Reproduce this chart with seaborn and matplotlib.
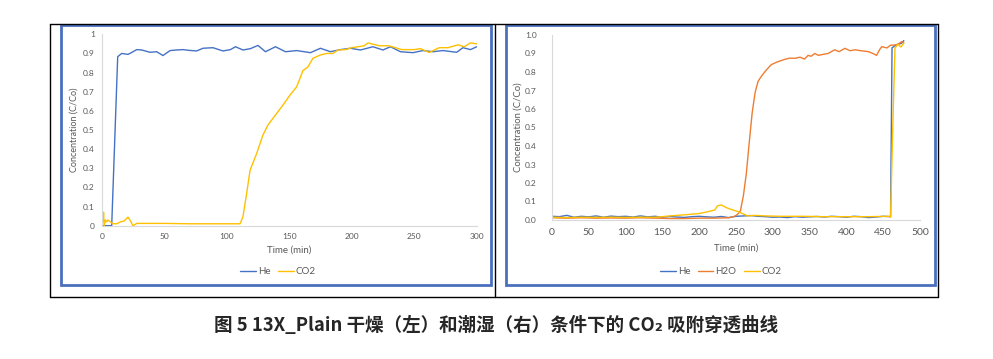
import numpy as np
import pandas as pd
import matplotlib
matplotlib.use("Agg")
import matplotlib.pyplot as plt
from matplotlib.lines import Line2D
from matplotlib.patches import Rectangle
import seaborn as sns

# ---- dry run (left) ----
he_dry_t = [0, 8, 12.8, 16, 21, 24, 28, 32, 38.7, 44, 49, 54.7, 60, 65, 70, 76, 81, 89, 97,
            103, 107, 113, 119, 125, 131, 139, 147, 156, 167, 175, 183, 191, 199, 207, 217,
            225, 231, 239, 249, 257, 265, 273, 284, 289, 295, 300]
he_dry_c = [0, 0, 0.883, 0.90, 0.895, 0.905, 0.92, 0.918, 0.906, 0.909, 0.889, 0.915, 0.918,
            0.92, 0.916, 0.913, 0.927, 0.93, 0.913, 0.92, 0.935, 0.918, 0.925, 0.942, 0.909,
            0.935, 0.909, 0.915, 0.904, 0.927, 0.909, 0.92, 0.927, 0.918, 0.935, 0.918, 0.935,
            0.909, 0.904, 0.915, 0.909, 0.915, 0.906, 0.93, 0.92, 0.935]

co2_dry_t = [0, 0.5, 1, 1.5, 2, 3, 4, 5, 7, 9, 12, 15, 18, 21, 23, 25, 28, 30, 50, 70, 90,
             110.7, 113, 116, 118.7, 124, 129, 133, 140, 145, 150.7, 156, 161, 165, 169, 175,
             180, 185, 189, 195, 200, 210, 213, 222, 230, 240, 250, 255, 262, 270, 277, 285,
             290, 295, 300]
co2_dry_c = [0.03, 0.08, 0.02, 0.07, 0.0, 0.03, 0.02, 0.03, 0.02, 0.01, 0.01, 0.02, 0.025,
             0.045, 0.025, 0.0, 0.012, 0.012, 0.012, 0.01, 0.01, 0.01, 0.047, 0.17, 0.29,
             0.378, 0.474, 0.526, 0.587, 0.63, 0.683, 0.726, 0.81, 0.83, 0.875, 0.892, 0.9,
             0.9, 0.918, 0.92, 0.93, 0.94, 0.955, 0.94, 0.94, 0.92, 0.92, 0.925, 0.905, 0.93,
             0.93, 0.945, 0.935, 0.955, 0.95]

# ---- humid run (right) ----
he_wet_t = [0, 10, 20, 30, 40, 50, 60, 70, 80, 90, 100, 110, 120, 130, 140, 150, 160, 170,
            180, 190, 200, 210, 220, 230, 240, 250, 260, 270, 280, 290, 300, 310, 320, 330,
            340, 350, 360, 370, 380, 390, 400, 410, 420, 430, 440, 450, 460, 462, 465, 470,
            475, 478]
he_wet_c = [0.02, 0.018, 0.025, 0.015, 0.02, 0.017, 0.022, 0.015, 0.021, 0.018, 0.02, 0.016,
            0.022, 0.017, 0.02, 0.015, 0.019, 0.016, 0.014, 0.018, 0.02, 0.017, 0.015, 0.019,
            0.013, 0.02, 0.022, 0.024, 0.02, 0.018, 0.015, 0.016, 0.013, 0.018, 0.015, 0.017,
            0.019, 0.016, 0.02, 0.018, 0.015, 0.02, 0.018, 0.013, 0.016, 0.02, 0.018, 0.93,
            0.94, 0.95, 0.955, 0.97]

h2o_wet_t = [0, 20, 40, 60, 80, 100, 120, 140, 160, 180, 200, 220, 240, 248, 252, 256, 260,
             264, 268, 272, 276, 280, 285, 291, 298, 307, 316, 323, 330, 337, 343, 348, 352,
             357, 362, 368, 375, 384, 390, 398, 405, 412, 420, 430, 436, 441, 445, 448, 455,
             460, 466, 470, 475, 478]
h2o_wet_c = [0.012, 0.01, 0.012, 0.01, 0.011, 0.01, 0.012, 0.01, 0.008, 0.008, 0.01, 0.01,
             0.012, 0.02, 0.03, 0.05, 0.13, 0.25, 0.42, 0.58, 0.69, 0.75, 0.78, 0.81, 0.84,
             0.856, 0.868, 0.875, 0.874, 0.88, 0.87, 0.89, 0.885, 0.9, 0.89, 0.895, 0.9, 0.92,
             0.91, 0.928, 0.915, 0.92, 0.915, 0.91, 0.9, 0.89, 0.92, 0.937, 0.93, 0.945, 0.946,
             0.95, 0.964, 0.96]

co2_wet_t = [0, 20, 40, 60, 80, 100, 120, 140, 150, 160, 180, 200, 212, 221, 225, 230, 239,
             253, 266, 275, 290, 310, 340, 370, 400, 430, 458, 460, 463, 466, 470, 474, 478]
co2_wet_c = [0.015, 0.013, 0.015, 0.014, 0.015, 0.014, 0.015, 0.015, 0.018, 0.022, 0.028,
             0.035, 0.045, 0.054, 0.077, 0.081, 0.063, 0.045, 0.022, 0.025, 0.022, 0.02, 0.02,
             0.018, 0.018, 0.018, 0.02, 0.015, 0.5, 0.93, 0.95, 0.935, 0.955]

left_yticks = [0, 0.1, 0.2, 0.3, 0.4, 0.5, 0.6, 0.7, 0.8, 0.9, 1]
left_ylabels = ["0", "0.1", "0.2", "0.3", "0.4", "0.5", "0.6", "0.7", "0.8", "0.9", "1"]
left_xticks = [0, 50, 100, 150, 200, 250, 300]
right_yticks = [0, 0.1, 0.2, 0.3, 0.4, 0.5, 0.6, 0.7, 0.8, 0.9, 1.0]
right_ylabels = ["0.0", "0.1", "0.2", "0.3", "0.4", "0.5", "0.6", "0.7", "0.8", "0.9", "1.0"]
right_xticks = [0, 50, 100, 150, 200, 250, 300, 350, 400, 450, 500]

caption = "图 5 13X_Plain 干燥（左）和潮湿（右）条件下的 CO₂ 吸附穿透曲线"

BLUE, ORANGE, YELLOW = "#4472C4", "#ED7D31", "#FFC000"
FRAME = "#4A70BC"
GREY_TXT = "#595959"
AXIS = "#D9D9D9"

W, H = 993, 359


def fx(px):
    return px / W


def fy(py):
    return 1 - py / H


sns.set_style("white")
plt.rcParams["font.family"] = ["Lato", "DejaVu Sans"]

fig = plt.figure(figsize=(9.93, 3.59), dpi=100)

# table cell borders
for x0, y0, x1, y1 in [(50, 24, 938, 24), (50, 297, 938, 297), (50, 24, 50, 297),
                       (495, 24, 495, 297), (938, 24, 938, 297)]:
    fig.add_artist(Line2D([fx(x0), fx(x1)], [fy(y0), fy(y1)], color="black", lw=1.0))

# blue chart frames
for x0, y0, x1, y1 in [(61, 25, 491, 285), (506, 25, 935, 285)]:
    fig.add_artist(Rectangle((fx(x0), fy(y1)), fx(x1) - fx(x0), fy(y0) - fy(y1),
                             fill=False, ec=FRAME, lw=2.0, transform=fig.transFigure))


def style_ax(ax, xmax, xticks, yticks, ylabels, ysize, xsize, ypad, xpad):
    ax.set_xlim(0, xmax)
    ax.set_ylim(0, 1)
    ax.set_xticks(xticks)
    ax.set_yticks(yticks)
    ax.set_yticklabels(ylabels)
    for s in ["top", "right"]:
        ax.spines[s].set_visible(False)
    for s in ["left", "bottom"]:
        ax.spines[s].set_color(AXIS)
        ax.spines[s].set_linewidth(0.8)
    ax.tick_params(axis="y", length=0, labelsize=ysize, colors=GREY_TXT, pad=ypad)
    ax.tick_params(axis="x", length=0, labelsize=xsize, colors=GREY_TXT, pad=xpad)
    ax.patch.set_alpha(0)


# left: dry
ax1 = fig.add_axes([fx(101.7), fy(225.7), fx(476.7) - fx(101.7), fy(34.3) - fy(225.7)])
sns.lineplot(x=he_dry_t, y=he_dry_c, ax=ax1, color=BLUE, lw=1.0, label="He")
sns.lineplot(x=co2_dry_t, y=co2_dry_c, ax=ax1, color=YELLOW, lw=1.0, label="CO2")
style_ax(ax1, 300, left_xticks, left_yticks, left_ylabels, 6, 6, 5, 5)
ax1.set_xlabel("Time (min)", fontsize=7, color=GREY_TXT)
ax1.set_ylabel("Concentration (C/Co)", fontsize=6.5, color=GREY_TXT)
ax1.xaxis.set_label_coords(0.5, -0.105)
ax1.yaxis.set_label_coords(-0.061, 0.5)
h, l = ax1.get_legend_handles_labels()
ax1.legend(h, l, loc="center", bbox_to_anchor=(fx(278), fy(272)),
           bbox_transform=fig.transFigure, ncol=2, frameon=False, fontsize=7,
           handlelength=1.6, handletextpad=0.2, columnspacing=0.8, labelcolor=GREY_TXT)

# right: humid
ax2 = fig.add_axes([fx(552), fy(220), fx(920) - fx(552), fy(35) - fy(220)])
sns.lineplot(x=he_wet_t, y=he_wet_c, ax=ax2, color=BLUE, lw=1.0, label="He")
sns.lineplot(x=h2o_wet_t, y=h2o_wet_c, ax=ax2, color=ORANGE, lw=1.0, label="H2O")
sns.lineplot(x=co2_wet_t, y=co2_wet_c, ax=ax2, color=YELLOW, lw=1.0, label="CO2")
style_ax(ax2, 500, right_xticks, right_yticks, right_ylabels, 6, 7.5, 11, 6)
ax2.set_xlabel("Time (min)", fontsize=7, color=GREY_TXT)
ax2.set_ylabel("Concentration (C/Co)", fontsize=6.8, color=GREY_TXT)
ax2.xaxis.set_label_coords(0.5, -0.13)
ax2.yaxis.set_label_coords(-0.08, 0.5)
h, l = ax2.get_legend_handles_labels()
ax2.legend(h, l, loc="center", bbox_to_anchor=(fx(721), fy(272)),
           bbox_transform=fig.transFigure, ncol=3, frameon=False, fontsize=7,
           handlelength=1.6, handletextpad=0.2, columnspacing=0.8, labelcolor=GREY_TXT)

fig.text(fx(496), fy(325), caption, ha="center", va="center", fontsize=13.3,
         fontweight="bold", family=["Noto Sans CJK SC", "DejaVu Sans"])

fig.savefig("out.png", dpi=100)
